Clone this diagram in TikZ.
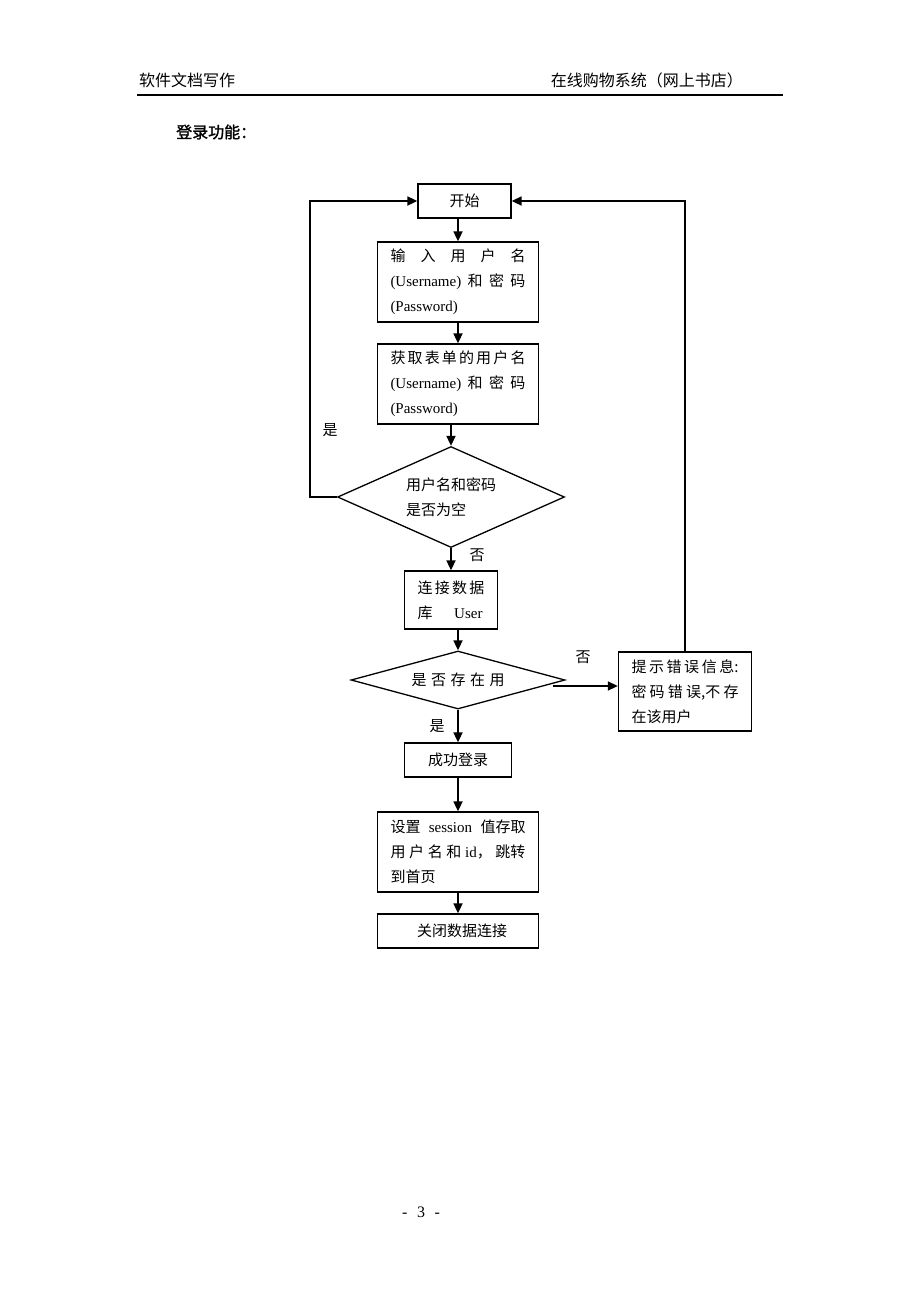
\documentclass[tikz,border=0pt]{standalone}
\usepackage{fontspec}
\setmainfont{Liberation Serif}
\newfontfamily\zh{Noto Sans CJK SC}
\newfontfamily\zhbold[FakeBold=1.5]{Noto Sans CJK SC}
\usetikzlibrary{shapes.geometric,arrows.meta}
\newcommand\fillline[2]{\makebox[#1][s]{#2}}
\tikzset{
  every node/.style={font=\zh\fontsize{15}{25}\selectfont},
  box/.style={draw,line width=1.3pt,inner xsep=13pt,inner ysep=0pt,align=left},
  choice/.style={draw,diamond,line width=1.3pt,inner sep=0pt,align=left},
  arr/.style={line width=1.7pt,-{Triangle[length=10pt,width=9pt]}},
  lbl/.style={inner sep=0pt},
  head/.style={inner sep=0pt,font=\zh\fontsize{16}{20}\selectfont}
}
\begin{document}
\begin{tikzpicture}[x=1pt,y=-1pt]
  \fill[white] (0,0) rectangle (920,1302);
  \useasboundingbox (0,0) rectangle (920,1302);
  % page header
  \node[head,anchor=west] (headl) at (139,80) {软件文档写作};
  \node[head,anchor=east] (headr) at (743,80) {在线购物系统（网上书店）};
  \draw[line width=1.2pt] (137,95) -- (783,95);
  \node[head,anchor=west,font=\zhbold\fontsize{16}{20}\selectfont] (title) at (176,132) {登录功能：};
  % flow
  \node[box,minimum width=93pt,minimum height=34pt,align=center] (start) at (464.5,201) {开始};
  \node[box,text width=135pt,minimum height=80pt] (input) at (458,282)
    {\fillline{135pt}{输\hfill 入\hfill 用\hfill 户\hfill 名}\\\fillline{135pt}{{\rmfamily (Username)}\hfill 和\hfill 密\hfill 码}\\{\rmfamily (Password)}};
  \node[box,text width=135pt,minimum height=80pt] (fetch) at (458,384)
    {\fillline{135pt}{获\hfill 取\hfill 表\hfill 单\hfill 的\hfill 用\hfill 户\hfill 名}\\\fillline{135pt}{{\rmfamily (Username)}\hfill 和\hfill 密\hfill 码}\\{\rmfamily (Password)}};
  \node[choice,aspect=2.25,minimum width=227pt,minimum height=101pt] (empty) at (451,497) {用户名和密码\\是否为空};
  \node[box,text width=67pt,minimum height=58pt] (db) at (451,600)
    {\fillline{67pt}{连\hfill 接\hfill 数\hfill 据}\\\fillline{67pt}{库\hfill{\rmfamily User}\hspace{2pt}}};
  \node[choice,aspect=3.7,minimum width=214pt,minimum height=58pt] (exist) at (458,680)
    {\makebox[93pt][s]{是\hfill 否\hfill 存\hfill 在\hfill 用}};
  \node[box,text width=107pt,minimum height=79pt] (err) at (685,691.5)
    {\fillline{107pt}{提\hfill 示\hfill 错\hfill 误\hfill 信\hfill 息:}\\\fillline{107pt}{密\hfill 码\hfill 错\hfill 误,不\hfill 存}\\在该用户};
  \node[box,minimum width=107pt,minimum height=34pt,align=center] (ok) at (458,760) {成功登录};
  \node[box,text width=135pt,minimum height=80pt] (sess) at (458,852)
    {\fillline{135pt}{设置\hfill{\rmfamily session}\hfill 值存取}\\\fillline{135pt}{用\hfill 户\hfill 名\hfill 和\hfill{\rmfamily id}，\hfill 跳转}\\到首页};
  \node[box,minimum width=161pt,minimum height=34pt,align=center] (close) at (458,931) {\hspace{8pt}关闭数据连接};
  % labels
  \node[lbl] (yes1) at (330,430) {是};
  \node[lbl] (no1) at (477,555) {否};
  \node[lbl] (no2) at (583,657) {否};
  \node[lbl] (yes2) at (437,726) {是};
  % connectors
  \draw[arr] (start.south -| input.north) -- (input.north);
  \draw[arr] (input) -- (fetch);
  \draw[arr] (fetch.south -| empty.north) -- (empty.north);
  \draw[arr] (empty.south) -- (empty.south |- db.north);
  \draw[arr] (db.south -| exist.north) -- (exist.north);
  \draw[arr] (exist.south) -- (exist.south |- ok.north);
  \draw[arr] (ok) -- (sess);
  \draw[arr] (sess) -- (close);
  \draw[arr] ([xshift=-13pt,yshift=-6pt]exist.east) -- ([yshift=-6pt]exist.east -| err.west);
  \draw[arr] (err.north) -- (err.north |- start.east) -- (start.east);
  \draw[arr] (empty.west) -- ++(-27,0) |- (start.west);
  % page number
  \node[lbl,font=\rmfamily\fontsize{16}{20}\selectfont] (page) at (421,1212) {-\hspace{0.6em}3\hspace{0.6em}-};
\end{tikzpicture}
\end{document}
